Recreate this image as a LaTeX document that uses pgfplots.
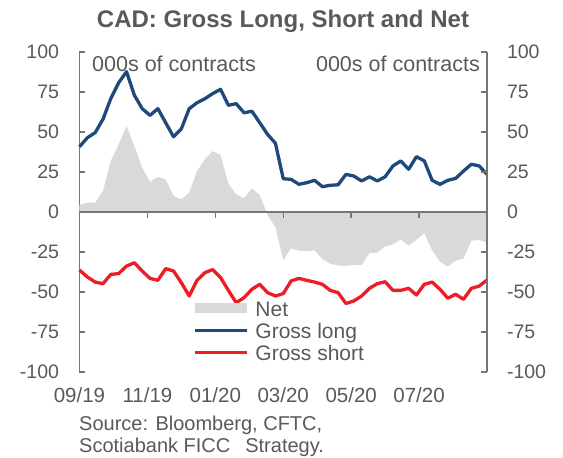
\documentclass[border=0pt]{standalone}
\usepackage{fontspec}
\setmainfont{Liberation Sans}
\usepackage{pgfplots}
\pgfplotsset{compat=1.18}
\usepackage{pgfplotstable}

\definecolor{txt}{HTML}{595959}
\definecolor{axgray}{HTML}{767676}
\definecolor{longblue}{RGB}{31,73,125}
\definecolor{shortred}{RGB}{238,28,37}
\definecolor{netgray}{HTML}{D9D9D9}

% weekly positioning, 000s of contracts
\pgfplotstableread{
wk long short net
0 40.8 -36.3 4.5
1 46.4 -40.6 5.8
2 49.6 -43.8 5.8
3 58.0 -44.8 13.2
4 71.0 -39.0 32.0
5 80.8 -38.5 42.3
6 87.7 -33.8 53.9
7 73.0 -31.7 41.3
8 64.6 -36.9 27.7
9 60.4 -41.5 18.9
10 64.6 -42.7 21.9
11 55.8 -35.4 20.4
12 47.0 -36.9 10.1
13 52.0 -44.2 7.8
14 64.6 -52.5 12.1
15 68.3 -42.7 25.6
16 70.8 -37.9 32.9
17 74.0 -36.0 38.0
18 76.7 -41.0 35.7
19 66.7 -49.0 17.7
20 67.7 -56.7 11.0
21 62.0 -53.5 8.5
22 63.0 -48.3 14.7
23 55.8 -45.2 10.6
24 48.5 -50.4 -1.9
25 43.0 -52.5 -9.5
26 20.8 -51.0 -30.2
27 20.4 -43.1 -22.7
28 17.3 -41.5 -24.2
29 18.3 -42.7 -24.4
30 19.8 -43.8 -24.0
31 15.8 -45.2 -29.4
32 16.7 -49.0 -32.3
33 17.0 -50.4 -33.4
34 23.5 -57.2 -33.7
35 22.5 -55.6 -33.1
36 19.4 -52.5 -33.1
37 22.0 -47.7 -25.7
38 19.4 -44.8 -25.4
39 22.0 -43.6 -21.6
40 28.8 -49.0 -20.2
41 31.9 -49.0 -17.1
42 26.7 -47.7 -21.0
43 34.6 -51.9 -17.3
44 31.9 -45.2 -13.3
45 19.8 -43.8 -24.0
46 17.3 -48.3 -31.0
47 19.8 -53.9 -34.1
48 21.0 -51.4 -30.4
49 25.6 -54.6 -29.0
50 29.8 -47.7 -17.9
51 28.8 -46.3 -17.5
52 23.5 -42.5 -19.0
}\cadtable

\pgfplotsset{
  cadbase/.style={
    scale only axis, width=407.5pt, height=320pt,
    xmin=0, xmax=52, ymin=-100, ymax=100,
    xtick={0,8.6667,17.3333,26,34.6667,43.3333},
    ytick={-100,-75,-50,-25,0,25,50,75,100},
    tick align=inside, major tick length=6pt,
    axis line style={axgray, line width=1.4pt},
    tick style={axgray, line width=1.4pt},
    tick label style={font=\fontsize{19.5}{20}\selectfont, text=txt},
  },
}

\begin{document}
\begin{tikzpicture}
\useasboundingbox (-79.5pt,-86pt) rectangle (483.5pt,372pt);

\begin{axis}[cadbase,
  axis y line*=left, axis x line*=bottom,
  x axis line style={draw=none},
  xtick style={draw=none},
  xticklabels={09/19,11/19,01/20,03/20,05/20,07/20},
  yticklabels={-100,-75,-50,-25,0,25,50,75,100},
  yticklabel style={xshift=-17pt},
  xticklabel style={yshift=-12.5pt, font=\fontsize{20.5}{21}\selectfont},
  clip=false,
  legend cell align=left,
  legend style={draw=none, fill=none, inner sep=0pt,
    at={(0.2785,0.2197)}, anchor=north west,
    font=\fontsize{21}{21}\selectfont, text=txt,
    nodes={inner sep=0pt, text height=15pt, text depth=4pt},
    row sep=3pt, column sep=7pt},
]
\addplot[fill=netgray, draw=none,
  legend image code/.code={\fill[netgray] (0pt,-2pt) rectangle (52pt,8pt);}]
  table[x=wk, y=net] {\cadtable} \closedcycle;
\addlegendentry{Net}
\addplot[longblue, line width=3.3pt, line join=round,
  legend image code/.code={\draw[longblue, line width=3.3pt] (0pt,3pt) -- (52pt,3pt);}]
  table[x=wk, y=long] {\cadtable};
\addlegendentry{Gross long}
\addplot[shortred, line width=3.3pt, line join=round,
  legend image code/.code={\draw[shortred, line width=3.3pt] (0pt,3pt) -- (52pt,3pt);}]
  table[x=wk, y=short] {\cadtable};
\addlegendentry{Gross short}
\end{axis}

% zero line with the month ticks hanging below it
\begin{axis}[cadbase,
  axis x line=middle, axis y line=none,
  x axis line style={-},
  xticklabels={}, ytick=\empty,
  tick align=outside,
]
\end{axis}

% right-hand scale
\begin{axis}[cadbase,
  axis y line*=right, axis x line=none,
  xtick=\empty,
  yticklabels={-100,-75,-50,-25,0,25,50,75,100},
  yticklabel style={xshift=16.5pt},
]
\end{axis}

\node[anchor=base, text=txt, font=\bfseries\fontsize{24}{24}\selectfont]
  at (203.5pt,344pt) {CAD: Gross Long, Short and Net};
\node[anchor=base west, inner sep=0pt, text=txt, font=\fontsize{21.5}{22}\selectfont]
  at (12.5pt,300pt) {000s of contracts};
\node[anchor=base east, inner sep=0pt, text=txt, font=\fontsize{21.5}{22}\selectfont]
  at (400.5pt,300pt) {000s of contracts};
\node[anchor=base west, inner sep=0pt, text=txt, font=\fontsize{20}{22}\selectfont]
  at (-0.5pt,-59pt) {Source: Bloomberg, CFTC,};
\node[anchor=base west, inner sep=0pt, text=txt, font=\fontsize{20}{22}\selectfont]
  at (-0.5pt,-81pt) {Scotiabank FICC\hspace{0.75em}Strategy.};
\end{tikzpicture}
\end{document}
